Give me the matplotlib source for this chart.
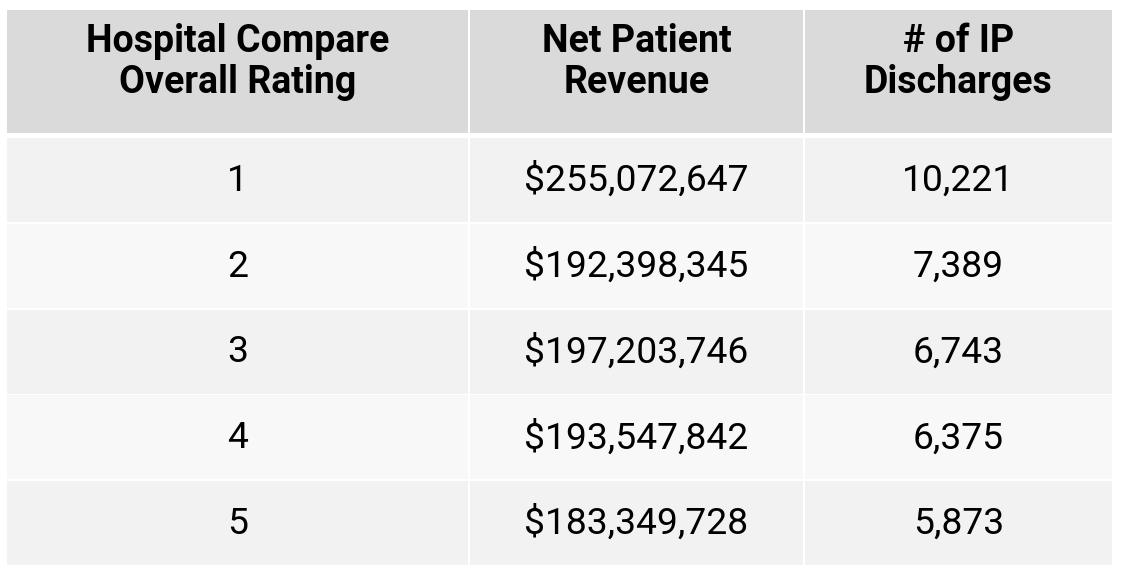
import matplotlib.pyplot as plt
from matplotlib.patches import Rectangle

plt.rcParams['font.family'] = ['Roboto', 'DejaVu Sans']

# table content
headers = ["Hospital Compare\nOverall Rating", "Net Patient\nRevenue", "# of IP\nDischarges"]
ratings = [1, 2, 3, 4, 5]
net_revenue = [255072647, 192398345, 197203746, 193547842, 183349728]
ip_discharges = [10221, 7389, 6743, 6375, 5873]

W, H = 1122, 572
fig = plt.figure(figsize=(W / 100, H / 100), dpi=100)
ax = fig.add_axes([0, 0, 1, 1])
ax.set_xlim(0, W)
ax.set_ylim(H, 0)
ax.axis("off")

# column edges in pixels
col_left = [7, 470, 805]
col_right = [468, 803, 1112]

header_top, header_bot = 9.5, 133
row_top0, row_pitch, row_h = 138, 85.75, 84

for c, text in enumerate(headers):
    ax.add_patch(Rectangle((col_left[c], header_top), col_right[c] - col_left[c],
                           header_bot - header_top, color="#dadada", lw=0))
    ax.text((col_left[c] + col_right[c]) / 2, 62, text, ha="center", va="center",
            fontsize=27, fontweight="bold", linespacing=1.17, color="black")

for i, r in enumerate(ratings):
    top = row_top0 + i * row_pitch
    fill = "#f2f2f2" if i % 2 == 0 else "#f8f8f8"
    cells = [str(r), f"${net_revenue[i]:,}", f"{ip_discharges[i]:,}"]
    for c, val in enumerate(cells):
        ax.add_patch(Rectangle((col_left[c], top), col_right[c] - col_left[c], row_h,
                               color=fill, lw=0))
        ax.text((col_left[c] + col_right[c]) / 2, top + row_h / 2 + 1, val,
                ha="center", va="center", fontsize=26.8, color="black")

fig.savefig("out.png", dpi=100)
